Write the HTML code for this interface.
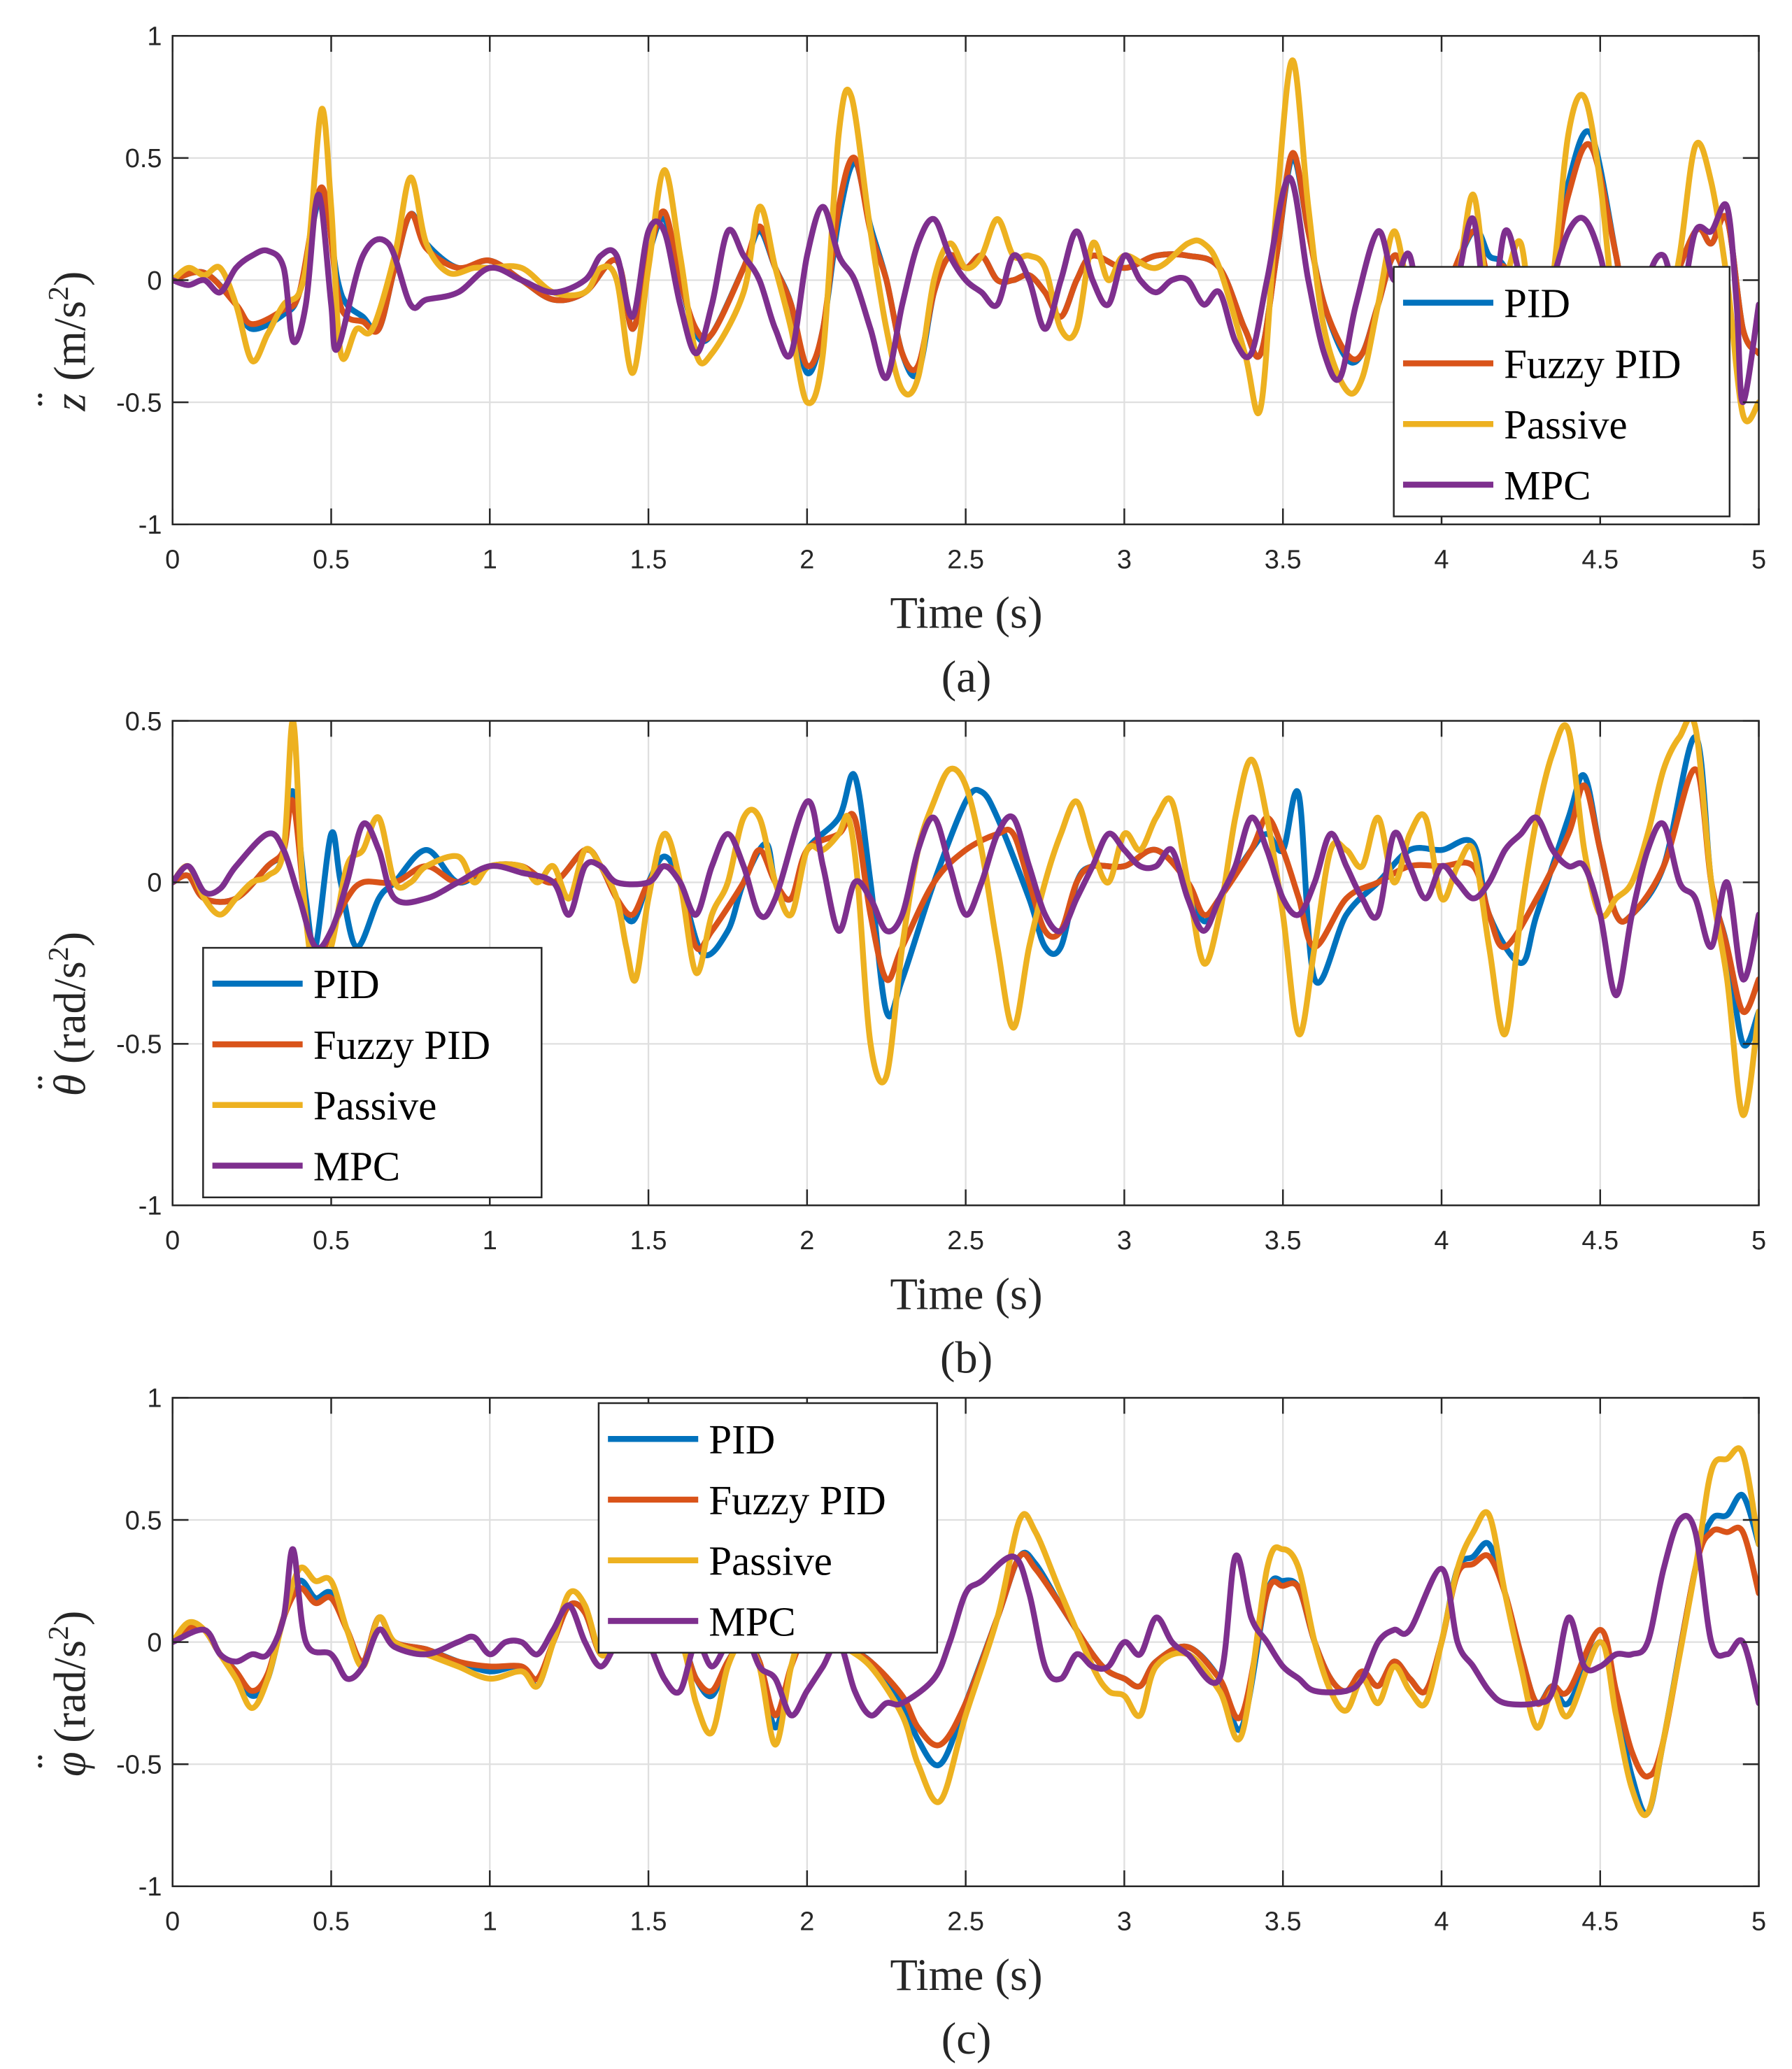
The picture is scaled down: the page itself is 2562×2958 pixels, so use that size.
<!DOCTYPE html>
<html><head><meta charset="utf-8"><style>
html,body{margin:0;padding:0;background:#fff;}
svg{display:block;}
.tick{font-family:"Liberation Sans",Arial,sans-serif;font-size:20px;fill:#262626;}
.lab{font-family:"Liberation Serif",serif;font-size:34px;fill:#262626;}
.leg{font-family:"Liberation Serif",serif;font-size:31px;fill:#000;}
</style></head><body>
<svg id="fig" width="2562" height="2958" viewBox="0 0 1350 1558.6" xmlns="http://www.w3.org/2000/svg"></svg>
<script>
// ---- Panel (a) data: [time, value]
const pidA=[[0,0],[0.1,0.03],[0.2,-0.1],[0.25,-0.2],[0.35,-0.14],[0.4,-0.05],[0.47,0.35],[0.52,0.0],[0.55,-0.1],[0.6,-0.15],[0.65,-0.2],[0.7,0.05],[0.75,0.27],[0.8,0.15],[0.9,0.05],[1.0,0.08],[1.1,0.0],[1.2,-0.08],[1.3,-0.05],[1.4,0.08],[1.45,-0.2],[1.5,0.1],[1.55,0.25],[1.6,0.0],[1.65,-0.22],[1.7,-0.22],[1.8,0.05],[1.85,0.2],[1.9,0.05],[1.95,-0.1],[2.0,-0.38],[2.05,-0.2],[2.1,0.25],[2.15,0.48],[2.2,0.22],[2.25,0.0],[2.3,-0.3],[2.35,-0.38],[2.4,-0.05],[2.45,0.1],[2.5,0.05],[2.55,0.1],[2.6,0.0],[2.65,0.0],[2.7,0.02],[2.75,-0.05],[2.8,-0.15],[2.85,0.0],[2.9,0.1],[3.0,0.05],[3.1,0.1],[3.2,0.1],[3.3,0.05],[3.38,-0.2],[3.43,-0.3],[3.48,0.1],[3.53,0.5],[3.58,0.2],[3.63,-0.1],[3.7,-0.32],[3.75,-0.3],[3.8,-0.1],[3.85,0.1],[3.9,0.0],[4.0,-0.05],[4.1,0.2],[4.15,0.1],[4.2,0.05],[4.3,-0.25],[4.35,0.0],[4.4,0.4],[4.47,0.6],[4.55,0.1],[4.6,-0.25],[4.7,-0.1],[4.8,0.2],[4.85,0.15],[4.9,0.25],[4.95,-0.2],[5.0,-0.3]];
const fuzA=[[0,0],[0.1,0.03],[0.2,-0.1],[0.25,-0.18],[0.35,-0.12],[0.4,-0.05],[0.47,0.38],[0.52,-0.05],[0.55,-0.15],[0.6,-0.17],[0.65,-0.2],[0.7,0.05],[0.75,0.27],[0.8,0.13],[0.9,0.05],[1.0,0.08],[1.1,0.0],[1.2,-0.08],[1.3,-0.05],[1.4,0.08],[1.45,-0.2],[1.5,0.1],[1.55,0.28],[1.6,0.0],[1.65,-0.2],[1.7,-0.22],[1.8,0.05],[1.85,0.22],[1.9,0.05],[1.95,-0.1],[2.0,-0.35],[2.05,-0.2],[2.1,0.3],[2.15,0.5],[2.2,0.2],[2.25,0.0],[2.3,-0.3],[2.35,-0.35],[2.4,-0.05],[2.45,0.1],[2.5,0.05],[2.55,0.1],[2.6,0.0],[2.65,0.0],[2.7,0.02],[2.75,-0.05],[2.8,-0.15],[2.85,0.0],[2.9,0.1],[3.0,0.05],[3.1,0.1],[3.2,0.1],[3.3,0.05],[3.38,-0.2],[3.43,-0.3],[3.48,0.1],[3.53,0.52],[3.58,0.2],[3.63,-0.1],[3.7,-0.3],[3.75,-0.3],[3.8,-0.1],[3.85,0.1],[3.9,0.0],[4.0,-0.05],[4.1,0.2],[4.15,0.0],[4.2,0.05],[4.3,-0.25],[4.35,0.0],[4.4,0.35],[4.47,0.55],[4.55,0.1],[4.6,-0.25],[4.7,-0.1],[4.8,0.2],[4.85,0.15],[4.9,0.25],[4.95,-0.2],[5.0,-0.3]];
const pasA=[[0,0],[0.05,0.05],[0.1,0.02],[0.15,0.05],[0.2,-0.1],[0.25,-0.33],[0.3,-0.22],[0.35,-0.1],[0.4,-0.05],[0.43,0.15],[0.47,0.7],[0.5,0.3],[0.53,-0.3],[0.58,-0.2],[0.63,-0.2],[0.7,0.1],[0.75,0.42],[0.8,0.15],[0.87,0.03],[0.95,0.05],[1.0,0.05],[1.1,0.05],[1.2,-0.05],[1.3,-0.05],[1.35,0.05],[1.4,0.0],[1.45,-0.38],[1.5,0.05],[1.55,0.45],[1.6,0.1],[1.65,-0.3],[1.7,-0.3],[1.8,-0.05],[1.85,0.3],[1.9,0.05],[1.95,-0.2],[2.0,-0.5],[2.05,-0.3],[2.1,0.6],[2.14,0.75],[2.2,0.2],[2.25,-0.2],[2.3,-0.45],[2.35,-0.4],[2.4,0.0],[2.45,0.15],[2.5,0.05],[2.55,0.1],[2.6,0.25],[2.65,0.1],[2.7,0.1],[2.75,0.05],[2.8,-0.2],[2.85,-0.2],[2.9,0.15],[2.95,0.0],[3.0,0.1],[3.1,0.05],[3.2,0.15],[3.25,0.15],[3.3,0.05],[3.38,-0.3],[3.43,-0.52],[3.48,0.3],[3.53,0.9],[3.58,0.3],[3.63,-0.2],[3.7,-0.45],[3.75,-0.4],[3.8,-0.1],[3.85,0.2],[3.9,-0.05],[3.95,0.0],[4.0,-0.1],[4.05,0.0],[4.1,0.35],[4.15,-0.1],[4.2,0.0],[4.25,0.15],[4.3,-0.3],[4.35,0.0],[4.4,0.6],[4.45,0.75],[4.5,0.4],[4.55,-0.2],[4.6,-0.4],[4.65,-0.1],[4.7,-0.2],[4.75,0.1],[4.8,0.55],[4.85,0.4],[4.9,0.0],[4.95,-0.55],[5.0,-0.5]];
const mpcA=[[0,0],[0.05,-0.02],[0.1,0.0],[0.15,-0.05],[0.2,0.05],[0.25,0.1],[0.3,0.12],[0.35,0.05],[0.38,-0.25],[0.42,-0.1],[0.45,0.3],[0.47,0.3],[0.5,-0.1],[0.52,-0.28],[0.6,0.1],[0.68,0.15],[0.75,-0.1],[0.8,-0.08],[0.9,-0.05],[1.0,0.05],[1.1,0.0],[1.2,-0.05],[1.3,0.0],[1.35,0.1],[1.4,0.1],[1.45,-0.15],[1.5,0.2],[1.55,0.2],[1.6,-0.1],[1.65,-0.3],[1.7,-0.1],[1.75,0.2],[1.8,0.1],[1.85,0.0],[1.9,-0.2],[1.95,-0.3],[2.0,0.1],[2.05,0.3],[2.1,0.1],[2.15,0.0],[2.2,-0.2],[2.25,-0.4],[2.3,-0.1],[2.35,0.15],[2.4,0.25],[2.45,0.1],[2.5,0.0],[2.55,-0.05],[2.6,-0.1],[2.65,0.1],[2.7,0.0],[2.75,-0.2],[2.8,0.0],[2.85,0.2],[2.9,0.0],[2.95,-0.1],[3.0,0.1],[3.05,0.0],[3.1,-0.05],[3.15,0.0],[3.2,0.0],[3.25,-0.1],[3.3,-0.05],[3.35,-0.25],[3.4,-0.3],[3.45,0.0],[3.52,0.42],[3.58,0.0],[3.63,-0.3],[3.68,-0.4],[3.73,-0.1],[3.8,0.2],[3.85,0.0],[3.9,0.1],[3.95,-0.3],[4.0,-0.15],[4.05,0.0],[4.1,0.25],[4.15,-0.2],[4.2,0.2],[4.25,0.0],[4.3,-0.2],[4.35,0.0],[4.4,0.2],[4.45,0.25],[4.5,0.1],[4.55,-0.2],[4.6,-0.35],[4.65,0.0],[4.7,0.1],[4.75,-0.1],[4.8,0.2],[4.85,0.2],[4.9,0.3],[4.93,-0.1],[4.95,-0.5],[5.0,-0.1]];
// ---- Panel (b) data
const pidB=[[0,0],[0.05,0.02],[0.1,-0.05],[0.2,-0.05],[0.3,0.05],[0.35,0.1],[0.38,0.28],[0.42,-0.05],[0.45,-0.2],[0.5,0.15],[0.53,0.0],[0.58,-0.2],[0.65,-0.05],[0.7,0.0],[0.8,0.1],[0.9,0.0],[1.0,0.05],[1.1,0.05],[1.2,0.0],[1.3,0.1],[1.35,0.05],[1.4,-0.05],[1.45,-0.12],[1.5,0.0],[1.55,0.08],[1.6,0.0],[1.67,-0.22],[1.75,-0.15],[1.8,0.0],[1.87,0.12],[1.9,0.0],[1.95,-0.05],[2.0,0.1],[2.1,0.2],[2.15,0.33],[2.2,0.0],[2.25,-0.4],[2.3,-0.3],[2.4,0.0],[2.5,0.25],[2.55,0.28],[2.6,0.2],[2.7,-0.05],[2.75,-0.2],[2.8,-0.2],[2.85,0.0],[2.9,0.05],[3.0,0.05],[3.1,0.1],[3.2,0.0],[3.25,-0.12],[3.3,-0.05],[3.4,0.1],[3.45,0.15],[3.5,0.1],[3.55,0.27],[3.6,-0.3],[3.7,-0.1],[3.8,0.0],[3.9,0.1],[4.0,0.1],[4.1,0.12],[4.15,-0.1],[4.25,-0.25],[4.3,-0.1],[4.4,0.2],[4.45,0.33],[4.5,0.1],[4.55,-0.1],[4.6,-0.1],[4.7,0.05],[4.8,0.45],[4.85,0.0],[4.9,-0.2],[4.95,-0.5],[5.0,-0.4]];
const fuzB=[[0,0],[0.05,0.02],[0.1,-0.05],[0.2,-0.05],[0.3,0.05],[0.35,0.1],[0.38,0.25],[0.42,-0.1],[0.45,-0.25],[0.5,-0.15],[0.55,-0.05],[0.6,0.0],[0.7,0.0],[0.8,0.05],[0.9,0.0],[1.0,0.05],[1.1,0.05],[1.2,0.0],[1.3,0.1],[1.35,0.05],[1.4,-0.05],[1.45,-0.1],[1.5,0.0],[1.55,0.05],[1.6,0.0],[1.65,-0.2],[1.7,-0.15],[1.8,0.0],[1.85,0.1],[1.9,0.0],[1.95,-0.05],[2.0,0.1],[2.1,0.15],[2.15,0.2],[2.2,-0.1],[2.25,-0.3],[2.3,-0.2],[2.4,0.0],[2.5,0.1],[2.6,0.15],[2.65,0.15],[2.7,0.0],[2.75,-0.15],[2.8,-0.15],[2.85,0.0],[2.9,0.05],[3.0,0.05],[3.1,0.1],[3.2,0.0],[3.25,-0.1],[3.3,-0.05],[3.4,0.1],[3.45,0.2],[3.5,0.1],[3.55,-0.05],[3.6,-0.2],[3.7,-0.05],[3.8,0.0],[3.9,0.05],[4.0,0.05],[4.1,0.05],[4.15,-0.1],[4.2,-0.2],[4.3,-0.05],[4.4,0.15],[4.45,0.3],[4.5,0.1],[4.55,-0.1],[4.6,-0.1],[4.7,0.05],[4.8,0.35],[4.85,0.0],[4.9,-0.2],[4.95,-0.4],[5.0,-0.3]];
const pasB=[[0,0],[0.05,0.05],[0.1,-0.05],[0.15,-0.1],[0.2,-0.05],[0.25,0.0],[0.3,0.02],[0.35,0.1],[0.38,0.5],[0.41,0.0],[0.45,-0.3],[0.5,-0.2],[0.55,0.05],[0.6,0.1],[0.65,0.2],[0.7,0.0],[0.75,0.0],[0.8,0.05],[0.9,0.08],[0.95,0.0],[1.0,0.05],[1.1,0.05],[1.15,0.0],[1.2,0.05],[1.25,-0.05],[1.3,0.1],[1.35,0.05],[1.4,-0.05],[1.43,-0.2],[1.46,-0.3],[1.5,-0.05],[1.55,0.15],[1.6,0.0],[1.65,-0.28],[1.7,-0.1],[1.75,0.0],[1.8,0.2],[1.85,0.2],[1.9,0.0],[1.95,-0.1],[2.0,0.1],[2.05,0.1],[2.1,0.15],[2.13,0.2],[2.16,0.0],[2.2,-0.5],[2.25,-0.6],[2.3,-0.2],[2.35,0.1],[2.4,0.25],[2.45,0.35],[2.5,0.3],[2.55,0.1],[2.6,-0.2],[2.65,-0.45],[2.7,-0.2],[2.75,0.0],[2.8,0.15],[2.85,0.25],[2.9,0.1],[2.95,0.0],[3.0,0.15],[3.05,0.1],[3.1,0.2],[3.15,0.25],[3.2,0.0],[3.25,-0.25],[3.3,-0.1],[3.35,0.2],[3.4,0.38],[3.45,0.2],[3.5,-0.1],[3.55,-0.47],[3.6,-0.2],[3.65,0.1],[3.7,0.1],[3.75,0.05],[3.8,0.2],[3.85,0.0],[3.9,0.15],[3.95,0.2],[4.0,-0.05],[4.05,0.05],[4.1,0.1],[4.15,-0.2],[4.2,-0.47],[4.25,-0.1],[4.3,0.2],[4.35,0.4],[4.4,0.47],[4.45,0.1],[4.5,-0.1],[4.55,-0.05],[4.6,0.0],[4.65,0.15],[4.7,0.35],[4.75,0.45],[4.8,0.48],[4.85,0.0],[4.9,-0.3],[4.95,-0.72],[5.0,-0.4]];
const mpcB=[[0,0],[0.05,0.05],[0.1,-0.03],[0.15,-0.02],[0.2,0.05],[0.3,0.15],[0.35,0.1],[0.4,-0.05],[0.45,-0.2],[0.5,-0.15],[0.55,0.0],[0.6,0.18],[0.65,0.1],[0.7,-0.05],[0.8,-0.05],[0.9,0.0],[1.0,0.05],[1.1,0.03],[1.2,0.0],[1.25,-0.1],[1.3,0.05],[1.35,0.05],[1.4,0.0],[1.5,0.0],[1.55,0.05],[1.6,0.0],[1.65,-0.1],[1.7,0.05],[1.75,0.15],[1.8,0.05],[1.85,-0.1],[1.9,-0.05],[2.0,0.25],[2.05,0.05],[2.1,-0.15],[2.15,0.0],[2.2,-0.05],[2.25,-0.15],[2.3,-0.1],[2.35,0.1],[2.4,0.2],[2.45,0.05],[2.5,-0.1],[2.55,0.0],[2.6,0.15],[2.65,0.2],[2.7,0.05],[2.75,-0.1],[2.8,-0.15],[2.85,-0.05],[2.9,0.05],[2.95,0.15],[3.0,0.1],[3.05,0.05],[3.1,0.05],[3.15,0.1],[3.2,-0.05],[3.25,-0.15],[3.3,-0.05],[3.35,0.05],[3.4,0.2],[3.45,0.1],[3.5,-0.05],[3.55,-0.1],[3.6,0.0],[3.65,0.15],[3.7,0.05],[3.75,-0.05],[3.8,-0.1],[3.85,0.15],[3.9,0.05],[3.95,-0.05],[4.0,0.05],[4.05,0.0],[4.1,-0.05],[4.15,0.0],[4.2,0.1],[4.25,0.15],[4.3,0.2],[4.35,0.1],[4.4,0.05],[4.45,0.05],[4.5,-0.1],[4.55,-0.35],[4.6,-0.1],[4.65,0.1],[4.7,0.18],[4.75,0.0],[4.8,-0.05],[4.85,-0.2],[4.9,0.0],[4.95,-0.3],[5.0,-0.1]];
// ---- Panel (c) data
const pidC=[[0,0],[0.05,0.06],[0.1,0.05],[0.15,-0.05],[0.2,-0.12],[0.25,-0.22],[0.3,-0.15],[0.35,0.1],[0.4,0.25],[0.45,0.18],[0.5,0.2],[0.55,0.05],[0.6,-0.08],[0.65,0.1],[0.7,0.0],[0.8,-0.03],[0.9,-0.08],[1.0,-0.12],[1.1,-0.1],[1.15,-0.18],[1.2,0.0],[1.25,0.15],[1.3,0.12],[1.35,-0.05],[1.4,0.0],[1.5,0.0],[1.6,0.0],[1.65,-0.15],[1.7,-0.22],[1.75,-0.08],[1.8,0.0],[1.85,-0.08],[1.9,-0.35],[1.95,-0.1],[2.0,0.05],[2.05,0.08],[2.1,0.0],[2.2,-0.08],[2.3,-0.25],[2.35,-0.4],[2.42,-0.5],[2.5,-0.25],[2.6,0.1],[2.67,0.35],[2.72,0.32],[2.8,0.15],[2.9,-0.05],[2.95,-0.12],[3.0,-0.15],[3.05,-0.18],[3.1,-0.08],[3.2,-0.02],[3.3,-0.15],[3.37,-0.35],[3.45,0.2],[3.5,0.25],[3.55,0.22],[3.6,0.0],[3.65,-0.15],[3.7,-0.2],[3.75,-0.12],[3.8,-0.18],[3.85,-0.08],[3.9,-0.15],[3.95,-0.2],[4.0,0.0],[4.05,0.3],[4.1,0.35],[4.15,0.4],[4.2,0.2],[4.25,-0.05],[4.3,-0.25],[4.35,-0.18],[4.4,-0.25],[4.5,0.0],[4.55,-0.25],[4.6,-0.55],[4.65,-0.7],[4.7,-0.4],[4.8,0.3],[4.85,0.5],[4.9,0.52],[4.95,0.6],[5.0,0.4]];
const fuzC=[[0,0],[0.05,0.06],[0.1,0.05],[0.15,-0.05],[0.2,-0.12],[0.25,-0.2],[0.3,-0.13],[0.35,0.1],[0.4,0.22],[0.45,0.16],[0.5,0.18],[0.55,0.05],[0.6,-0.08],[0.65,0.1],[0.7,0.0],[0.8,-0.03],[0.9,-0.08],[1.0,-0.1],[1.1,-0.1],[1.15,-0.15],[1.2,0.0],[1.25,0.15],[1.3,0.12],[1.35,-0.05],[1.4,0.0],[1.5,0.0],[1.6,0.0],[1.65,-0.15],[1.7,-0.2],[1.75,-0.08],[1.8,0.0],[1.85,-0.08],[1.9,-0.3],[1.95,-0.1],[2.0,0.05],[2.05,0.08],[2.1,0.0],[2.2,-0.08],[2.3,-0.22],[2.35,-0.35],[2.42,-0.42],[2.5,-0.25],[2.6,0.1],[2.67,0.35],[2.72,0.3],[2.8,0.15],[2.9,-0.05],[2.95,-0.12],[3.0,-0.15],[3.05,-0.18],[3.1,-0.08],[3.2,-0.02],[3.3,-0.15],[3.37,-0.3],[3.45,0.2],[3.5,0.23],[3.55,0.22],[3.6,0.0],[3.65,-0.15],[3.7,-0.2],[3.75,-0.12],[3.8,-0.18],[3.85,-0.08],[3.9,-0.15],[3.95,-0.2],[4.0,0.0],[4.05,0.28],[4.1,0.32],[4.15,0.35],[4.2,0.2],[4.25,-0.05],[4.3,-0.25],[4.35,-0.18],[4.4,-0.2],[4.5,0.05],[4.55,-0.2],[4.6,-0.45],[4.65,-0.55],[4.7,-0.4],[4.8,0.3],[4.85,0.45],[4.9,0.45],[4.95,0.45],[5.0,0.2]];
const pasC=[[0,0],[0.05,0.08],[0.1,0.05],[0.15,-0.05],[0.2,-0.15],[0.25,-0.27],[0.3,-0.15],[0.35,0.1],[0.4,0.3],[0.45,0.25],[0.5,0.25],[0.55,0.05],[0.6,-0.1],[0.65,0.1],[0.7,0.0],[0.8,-0.05],[0.9,-0.1],[1.0,-0.15],[1.1,-0.12],[1.15,-0.18],[1.2,0.0],[1.25,0.2],[1.3,0.15],[1.35,-0.05],[1.4,0.0],[1.5,0.0],[1.6,0.0],[1.65,-0.25],[1.7,-0.37],[1.75,-0.1],[1.8,0.0],[1.85,-0.1],[1.9,-0.42],[1.95,-0.1],[2.0,0.1],[2.05,0.1],[2.1,0.0],[2.2,-0.1],[2.3,-0.3],[2.35,-0.5],[2.42,-0.65],[2.5,-0.3],[2.6,0.1],[2.67,0.5],[2.72,0.45],[2.8,0.2],[2.9,-0.1],[2.95,-0.2],[3.0,-0.22],[3.05,-0.3],[3.1,-0.1],[3.2,-0.05],[3.3,-0.2],[3.37,-0.38],[3.45,0.3],[3.5,0.38],[3.55,0.3],[3.6,0.0],[3.65,-0.2],[3.7,-0.28],[3.75,-0.15],[3.8,-0.25],[3.85,-0.1],[3.9,-0.2],[3.95,-0.25],[4.0,0.0],[4.05,0.3],[4.1,0.45],[4.15,0.52],[4.2,0.2],[4.25,-0.1],[4.3,-0.35],[4.35,-0.2],[4.4,-0.3],[4.5,0.0],[4.55,-0.3],[4.6,-0.6],[4.65,-0.7],[4.7,-0.4],[4.8,0.3],[4.85,0.7],[4.9,0.75],[4.95,0.77],[5.0,0.4]];
const mpcC=[[0,0],[0.1,0.05],[0.15,-0.05],[0.2,-0.08],[0.25,-0.05],[0.3,-0.05],[0.35,0.1],[0.38,0.38],[0.42,0.0],[0.5,-0.05],[0.55,-0.15],[0.6,-0.1],[0.65,0.05],[0.7,-0.02],[0.8,-0.05],[0.9,0.0],[0.95,0.02],[1.0,-0.05],[1.05,0.0],[1.1,0.0],[1.15,-0.05],[1.2,0.05],[1.25,0.15],[1.3,0.0],[1.35,-0.1],[1.4,0.0],[1.45,0.1],[1.5,0.0],[1.55,-0.15],[1.6,-0.2],[1.65,0.0],[1.7,-0.1],[1.75,0.0],[1.8,0.05],[1.85,-0.1],[1.9,-0.15],[1.95,-0.3],[2.0,-0.2],[2.05,-0.1],[2.1,0.0],[2.15,-0.2],[2.2,-0.3],[2.25,-0.25],[2.3,-0.25],[2.4,-0.15],[2.45,0.0],[2.5,0.2],[2.55,0.25],[2.65,0.35],[2.7,0.2],[2.75,-0.1],[2.8,-0.15],[2.85,-0.05],[2.9,-0.1],[2.95,-0.1],[3.0,0.0],[3.05,-0.05],[3.1,0.1],[3.15,0.0],[3.2,-0.05],[3.3,-0.15],[3.35,0.35],[3.4,0.1],[3.45,0.0],[3.5,-0.1],[3.55,-0.15],[3.6,-0.2],[3.7,-0.2],[3.75,-0.15],[3.8,0.0],[3.85,0.05],[3.9,0.05],[4.0,0.3],[4.05,0.0],[4.1,-0.1],[4.15,-0.2],[4.2,-0.25],[4.3,-0.25],[4.35,-0.2],[4.4,0.1],[4.45,-0.1],[4.5,-0.1],[4.55,-0.05],[4.6,-0.05],[4.65,0.0],[4.7,0.3],[4.75,0.5],[4.8,0.45],[4.85,0.0],[4.9,-0.05],[4.95,0.0],[5.0,-0.25]];
const xTicks=[0,0.5,1,1.5,2,2.5,3,3.5,4,4.5,5];
const xTickLabels=["0","0.5","1","1.5","2","2.5","3","3.5","4","4.5","5"];
const yTicksA=[-1,-0.5,0,0.5,1];
const yTicksB=[-1,-0.5,0,0.5];
const yTicksC=[-1,-0.5,0,0.5,1];
const seriesNames=["PID","Fuzzy PID","Passive","MPC"];
const colors=["#0072BD","#D95319","#EDB120","#7E2F8E"];

const NS="http://www.w3.org/2000/svg";
const svg=document.getElementById('fig');
function mk(tag,attrs,parent){const e=document.createElementNS(NS,tag);for(const k in attrs)e.setAttribute(k,attrs[k]);(parent||svg).appendChild(e);return e;}
const X0=130,X1=1325;
function xs(t){return X0+(X1-X0)*t/5;}
function smoothPath(pts){
  let d='M'+pts[0][0].toFixed(1)+','+pts[0][1].toFixed(1);
  for(let i=0;i<pts.length-1;i++){
    const p0=pts[Math.max(0,i-1)],p1=pts[i],p2=pts[i+1],p3=pts[Math.min(pts.length-1,i+2)];
    const c1x=p1[0]+(p2[0]-p0[0])/6,c1y=p1[1]+(p2[1]-p0[1])/6;
    const c2x=p2[0]-(p3[0]-p1[0])/6,c2y=p2[1]-(p3[1]-p1[1])/6;
    d+=' C'+c1x.toFixed(1)+','+c1y.toFixed(1)+' '+c2x.toFixed(1)+','+c2y.toFixed(1)+' '+p2[0].toFixed(1)+','+p2[1].toFixed(1);
  }
  return d;
}

function panel(key,top,bot,ymin,ymax,yTicks,data,sym,unit,legend,sub){
  const g=mk('g',{});
  
  
  const ys=v=>bot-(bot-top)*(v-ymin)/(ymax-ymin);
  xTicks.forEach((t,i)=>{
    const l=mk('line',{x1:xs(t),x2:xs(t),y1:top,y2:bot,stroke:'#dfdfdf','stroke-width':1.2},g);
    
    
  });
  yTicks.forEach(v=>{
    const l=mk('line',{x1:X0,x2:X1,y1:ys(v),y2:ys(v),stroke:'#dfdfdf','stroke-width':1.2},g);
    
    
  });
  const cp=mk('clipPath',{id:'clip'+key},g);
  mk('rect',{x:X0,y:top,width:X1-X0,height:bot-top},cp);
  data.forEach((d,i)=>{
    const p=mk('path',{d:smoothPath(d.map(q=>[xs(q[0]),ys(q[1])])),fill:'none',stroke:colors[i],'stroke-width':4.4,'stroke-linejoin':'round','stroke-linecap':'round','clip-path':'url(#clip'+key+')'},g);
    
    
  });
  const b=mk('rect',{x:X0,y:top,width:X1-X0,height:bot-top,fill:'none',stroke:'#262626','stroke-width':1.3},g);
  
  
  xTicks.forEach((t,i)=>{
    mk('line',{x1:xs(t),x2:xs(t),y1:bot,y2:bot-12,stroke:'#262626','stroke-width':1.3},g);
    mk('line',{x1:xs(t),x2:xs(t),y1:top,y2:top+12,stroke:'#262626','stroke-width':1.3},g);
    const tx=mk('text',{x:xs(t),y:bot+33,'text-anchor':'middle',class:'tick'},g);
    tx.textContent=xTickLabels[i];
    
    
  });
  yTicks.forEach(v=>{
    mk('line',{x1:X0,x2:X0+12,y1:ys(v),y2:ys(v),stroke:'#262626','stroke-width':1.3},g);
    mk('line',{x1:X1,x2:X1-12,y1:ys(v),y2:ys(v),stroke:'#262626','stroke-width':1.3},g);
    const tx=mk('text',{x:X0-8,y:ys(v)+7,'text-anchor':'end',class:'tick'},g);
    tx.textContent=String(v);
    
    
  });
  const xl=mk('text',{x:728,y:bot+78,'text-anchor':'middle',class:'lab'},g);
  xl.textContent='Time (s)';
  
  
  const sl=mk('text',{x:728,y:bot+126,'text-anchor':'middle',class:'lab'},g);
  sl.textContent=sub;
  
  
  const yc=(top+bot)/2;
  const yg=mk('g',{transform:'translate(64,'+yc+') rotate(-90)'},g);
  
  
  const s=mk('text',{x:-92,y:0,'text-anchor':'middle',class:'lab','font-style':'italic'},yg);
  s.textContent=sym;
  const dd=mk('text',{x:-90,y:-14,'text-anchor':'middle',class:'lab'},yg);
  dd.textContent='¨';
  const u=mk('text',{x:-76,y:0,'text-anchor':'start',class:'lab'},yg);
  u.innerHTML='('+unit+'/s<tspan dy="-13" font-size="22">2</tspan><tspan dy="13">)</tspan>';
  const lg=mk('g',{},g);
  
  
  mk('rect',{x:legend.x,y:legend.y,width:legend.w,height:188,fill:'#fff',stroke:'#262626','stroke-width':1.3},lg);
  seriesNames.forEach((n,i)=>{
    const ey=legend.y+27+i*45.7;
    const e=mk('g',{},lg);
    
    
    mk('line',{x1:legend.x+7,x2:legend.x+75,y1:ey,y2:ey,stroke:colors[i],'stroke-width':4.5},e);
    const t=mk('text',{x:legend.x+83,y:ey+11,class:'leg'},e);
    t.textContent=n;
  });
}
panel('a',27,395,-1,1,yTicksA,[pidA,fuzA,pasA,mpcA],'z','m',{x:1050,y:201,w:253},'(a)');
panel('b',543,908,-1,0.5,yTicksB,[pidB,fuzB,pasB,mpcB],'θ','rad',{x:153,y:714,w:255},'(b)');
panel('c',1053,1421,-1,1,yTicksC,[pidC,fuzC,pasC,mpcC],'φ','rad',{x:451,y:1057,w:255},'(c)');
</script>
</body></html>
